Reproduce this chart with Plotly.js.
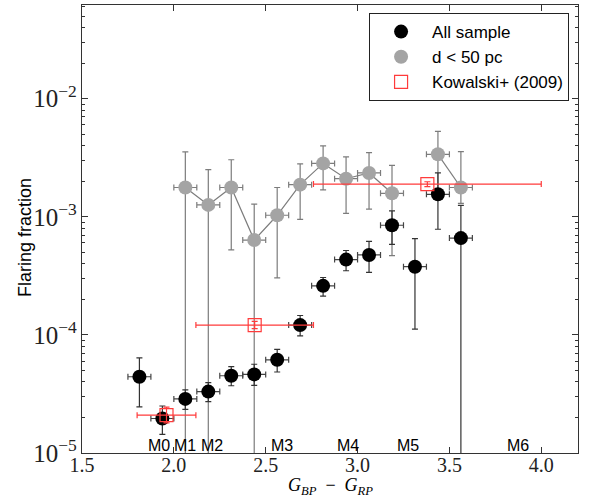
<!DOCTYPE html>
<html>
<head>
<meta charset="utf-8">
<script src="https://cdn.plot.ly/plotly-3.0.1.min.js"></script>
<style>
  html, body { margin: 0; padding: 0; background: #fff; }
  #chart { width: 591px; height: 498px; }
</style>
</head>
<body>
<div id="chart"></div>
<script>
// Colour bins in G_BP - G_RP (bin centres)
const colour = [1.8125, 1.9375, 2.0625, 2.1875, 2.3125, 2.4375, 2.5625, 2.6875,
                2.8125, 2.9375, 3.0625, 3.1875, 3.3125, 3.4375, 3.5625];
const binHalfWidth = 0.0625;

// Flaring fraction, whole sample (value, lower bound, upper bound)
const allFrac = [4.42e-5, 1.96e-5, 2.87e-5, 3.31e-5, 4.51e-5, 4.63e-5, 6.15e-5, 1.21e-4,
                 2.60e-4, 4.34e-4, 4.75e-4, 8.48e-4, 3.78e-4, 1.55e-3, 6.60e-4];
const allLo   = [2.46e-5, 1.44e-5, 2.34e-5, 2.72e-5, 3.71e-5, 3.73e-5, 4.85e-5, 9.80e-5,
                 2.13e-4, 3.49e-4, 3.38e-4, 5.83e-4, 1.12e-4, 7.84e-4, 0];
const allHi   = [6.40e-5, 2.50e-5, 3.42e-5, 3.95e-5, 5.38e-5, 5.64e-5, 7.54e-5, 1.46e-4,
                 3.06e-4, 5.18e-4, 6.18e-4, 1.12e-3, 6.52e-4, 2.35e-3, 1.25e-3];

// Flaring fraction, stars within 50 pc
const nearFrac = [null, null, 1.77e-3, 1.26e-3, 1.77e-3, 6.35e-4, 1.03e-3, 1.87e-3,
                  2.83e-3, 2.10e-3, 2.35e-3, 1.58e-3, null, 3.38e-3, 1.77e-3];
const nearLo   = [null, null, 0, 0, 5.25e-4, 0, 3.04e-4, 9.50e-4,
                  1.69e-3, 1.07e-3, 1.16e-3, 4.69e-4, null, 1.55e-3, 1.30e-3];
const nearHi   = [null, null, 3.54e-3, 2.51e-3, 3.04e-3, 1.28e-3, 1.77e-3, 2.81e-3,
                  3.98e-3, 3.21e-3, 3.49e-3, 2.72e-3, null, 5.28e-3, 3.56e-3];

// Kowalski et al. (2009)
const kowColour    = [1.96, 2.44, 3.38];
const kowHalfWidth = [0.16, 0.32, 0.62];
const kowFrac      = [2.09e-5, 1.21e-4, 1.89e-3];
const kowLo        = [1.80e-5, 1.13e-4, 1.80e-3];
const kowHi        = [2.45e-5, 1.30e-4, 1.98e-3];

// Spectral type labels along the colour axis
const spTypes  = ['M0', 'M1', 'M2', 'M3', 'M4', 'M5', 'M6'];
const spTypeX  = [1.918, 2.061, 2.205, 2.591, 2.95, 3.272, 3.873];

const plus  = (v, hi) => v.map((y, i) => (y == null ? null : hi[i] - y));
const minus = (v, lo) => v.map((y, i) => (y == null ? null : y - lo[i]));

const greyLine = '#7c7c7c';
const sans = 'Liberation Sans, Arial, sans-serif';
const serif = 'Liberation Serif, Times New Roman, serif';

const traces = [
  {
    x: colour, y: nearFrac, mode: 'lines', showlegend: false, hoverinfo: 'skip',
    line: { color: greyLine, width: 1.2 }
  },
  {
    name: 'd &lt; 50 pc', x: colour, y: nearFrac, mode: 'markers', legendrank: 2,
    marker: { size: 14, color: '#a4a4a4' },
    error_y: { type: 'data', symmetric: false, array: plus(nearFrac, nearHi),
               arrayminus: minus(nearFrac, nearLo), color: greyLine, thickness: 1.2, width: 3 },
    error_x: { type: 'constant', value: binHalfWidth, color: greyLine, thickness: 1.2, width: 3 }
  },
  {
    name: 'All sample', x: colour, y: allFrac, mode: 'markers', legendrank: 1,
    marker: { size: 14, color: '#000' },
    error_y: { type: 'data', symmetric: false, array: plus(allFrac, allHi),
               arrayminus: minus(allFrac, allLo), color: '#333', thickness: 1.2, width: 3 },
    error_x: { type: 'constant', value: binHalfWidth, color: '#444', thickness: 1.2, width: 3 }
  },
  {
    name: 'Kowalski+ (2009)', x: kowColour, y: kowFrac, mode: 'markers', legendrank: 3,
    marker: { symbol: 'square-open', size: 13, color: '#ff3b3b', line: { width: 1.2 } },
    error_y: { type: 'data', symmetric: false, array: plus(kowFrac, kowHi),
               arrayminus: minus(kowFrac, kowLo), color: '#ff3b3b', thickness: 1.2, width: 3 },
    error_x: { type: 'data', array: kowHalfWidth, color: '#ff3b3b', thickness: 1.2, width: 3 }
  }
];

const annotations = spTypes.map((t, i) => ({
  x: spTypeX[i], y: -5, xref: 'x', yref: 'y', text: t, showarrow: false,
  xanchor: 'center', yanchor: 'bottom', yshift: -3,
  font: { family: sans, size: 16, color: '#000' }
}));
annotations.push({
  x: -0.115, y: 0.482, xref: 'paper', yref: 'paper', text: 'Flaring fraction',
  textangle: -90, showarrow: false, xanchor: 'center', yanchor: 'middle',
  font: { family: sans, size: 18, color: '#000' }
});
annotations.push({
  x: 0.5, y: -0.074, xref: 'paper', yref: 'paper',
  text: '<i>G</i><sub><i>BP</i></sub>&nbsp;&nbsp;−&nbsp;&nbsp;<i>G</i><sub><i>RP</i></sub>',
  showarrow: false, xanchor: 'center', yanchor: 'middle', borderpad: 0,
  font: { family: serif, size: 18, color: '#000' }
});

const axisCommon = {
  showline: true, linecolor: '#333', linewidth: 1.2, mirror: 'ticks',
  ticks: 'inside', ticklen: 6, tickwidth: 1, tickcolor: '#333',
  showgrid: false, zeroline: false,
  tickfont: { family: serif, size: 20, color: '#222' }
};

const layout = {
  width: 591, height: 498,
  margin: { l: 82, r: 13, t: 5, b: 45 },
  paper_bgcolor: '#fff', plot_bgcolor: '#fff',
  xaxis: Object.assign({}, axisCommon, {
    range: [1.5, 4.2], tick0: 1.5, dtick: 0.5, tickformat: '.1f', ticklabelstandoff: -6
  }),
  yaxis: Object.assign({}, axisCommon, {
    type: 'log', range: [-5, -1.207], dtick: 1, exponentformat: 'power', showexponent: 'all',
    minor: { ticks: 'inside', ticklen: 3, tickcolor: '#333', dtick: 'D1', showgrid: false }
  }),
  legend: {
    x: 0.982, y: 0.982, xanchor: 'right', yanchor: 'top', itemwidth: 52,
    bgcolor: '#fff', bordercolor: '#222', borderwidth: 1,
    font: { family: sans, size: 17, color: '#000' }
  },
  annotations: annotations,
  showlegend: true
};

Plotly.newPlot('chart', traces, layout, { staticPlot: true });
</script>
</body>
</html>
